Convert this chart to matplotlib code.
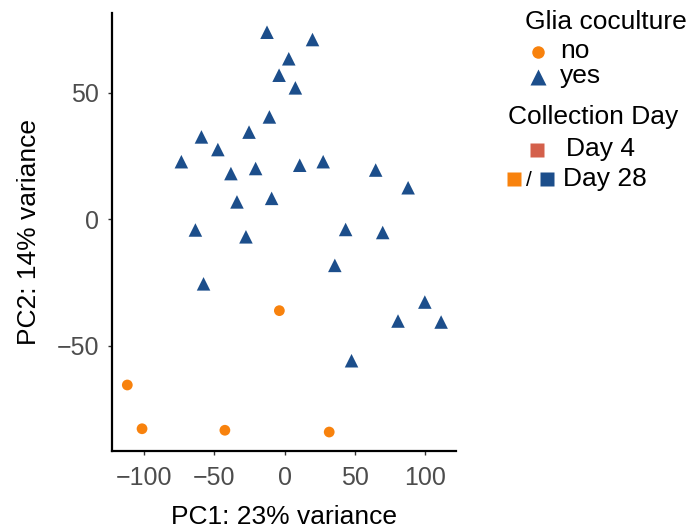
import matplotlib.pyplot as plt

plt.rcParams['font.family'] = ['Liberation Sans', 'DejaVu Sans']

# PCA scores
yes_pc1 = [-12.6, 19.8, 2.9, -4.0, 7.6, -10.9, -25.4, -59.3, -47.6, -73.6,
           27.4, 10.7, -20.7, -38.3, 64.8, 87.9, -9.3, -34.0, -63.6, -27.6,
           43.4, 69.8, -57.8, 35.7, 99.8, 80.7, 111.4, 47.6]
yes_pc2 = [73.9, 71.0, 63.4, 56.9, 51.9, 40.4, 34.4, 32.5, 27.5, 22.7,
           22.7, 21.3, 20.0, 18.0, 19.4, 12.4, 8.2, 6.8, -4.3, -7.0,
           -4.1, -5.3, -25.6, -18.3, -32.8, -40.3, -40.7, -56.0]
no_pc1 = [-3.8, -112.1, -101.6, -42.6, 31.7]
no_pc2 = [-36.2, -65.6, -82.9, -83.5, -84.2]

navy = '#1C4E8B'
orange = '#F8820D'
day4_col = '#D4604B'

fig = plt.figure(figsize=(6.91, 5.29), dpi=100)
ax = fig.add_axes([112/691, 1 - 451/529, (456-112)/691, (451-13)/529])

ax.scatter(no_pc1, no_pc2, marker='o', s=60, color=orange, edgecolors='none', zorder=3)
ax.scatter(yes_pc1, yes_pc2, marker='^', s=95, color=navy, edgecolors='none', zorder=3)

ax.set_xlim(-123, 122)
ax.set_ylim(-91.7, 81.5)
ax.set_xticks([-100, -50, 0, 50, 100])
ax.set_yticks([-50, 0, 50])
ax.set_xticklabels(['\u2212100', '\u221250', '0', '50', '100'])
ax.set_yticklabels(['\u221250', '0', '50'])
for s in ['top', 'right']:
    ax.spines[s].set_visible(False)
for s in ['left', 'bottom']:
    ax.spines[s].set_linewidth(1.6)
ax.tick_params(length=3, width=1, color='#333333', labelcolor='#4D4D4D', labelsize=18)
ax.tick_params(axis='y', pad=6.5)
ax.tick_params(axis='x', pad=7.5)
ax.set_xlabel('PC1: 23% variance', fontsize=19, labelpad=11)
ax.set_ylabel('PC2: 14% variance', fontsize=19, labelpad=11)

# legend drawn by hand in pixel coords
lg = fig.add_axes([0, 0, 1, 1], facecolor='none')
lg.set_xlim(0, 691)
lg.set_ylim(529, 0)
lg.axis('off')

fs = 19
lg.text(525, 22, 'Glia coculture', fontsize=fs, va='center', ha='left')
lg.plot([538], [52], marker='o', ms=9, color=orange, mec='none', ls='none')
lg.text(560, 51, 'no', fontsize=fs, va='center', ha='left')
lg.plot([538], [77], marker='^', ms=11.5, color=navy, mec='none', ls='none')
lg.text(560, 76, 'yes', fontsize=fs, va='center', ha='left')

lg.text(508, 117, 'Collection Day', fontsize=fs, va='center', ha='left')
lg.plot([537], [150], marker='s', ms=10.5, color=day4_col, mec='none', ls='none')
lg.text(566, 149, 'Day 4', fontsize=fs, va='center', ha='left')
lg.plot([514], [179], marker='s', ms=10.5, color=orange, mec='none', ls='none')
lg.text(529, 180, '/', fontsize=15, va='center', ha='center')
lg.plot([547], [179], marker='s', ms=10.5, color=navy, mec='none', ls='none')
lg.text(563, 179, 'Day 28', fontsize=fs, va='center', ha='left')

fig.savefig('out.png', dpi=100)
